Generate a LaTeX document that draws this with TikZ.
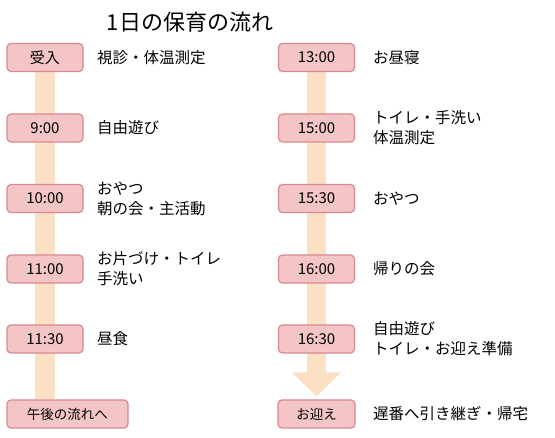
\documentclass[tikz,border=0pt]{standalone}
\usepackage{fontspec}
\setmainfont{Noto Sans CJK JP}
\usetikzlibrary{arrows.meta,backgrounds}
\definecolor{boxfill}{RGB}{243,197,198}
\definecolor{boxline}{RGB}{216,136,142}
\definecolor{barpeach}{RGB}{252,224,196}
\begin{document}
\begin{tikzpicture}
[x=1pt,y=-1pt,
  timebox/.style={shape=rectangle,rounded corners=4pt,draw=boxline,fill=boxfill,
    line width=1.2pt,minimum width=76pt,minimum height=28pt,inner sep=0pt,
    font=\fontsize{15}{18}\selectfont},%
  endbox/.style={timebox,font=\fontsize{13.5}{16}\selectfont},%
  labeltext/.style={anchor=west,inner sep=0pt,align=left,
    font=\fontsize{15.5}{20}\selectfont},%
  flowbar/.style={draw=barpeach,line width=20pt}]
\useasboundingbox (0,0) rectangle (555,438);
%% title
\node (title) at (190,22) {\fontsize{22}{26}\selectfont 1日の保育の流れ};
%% morning column
\foreach \nodename/\y/\clock/\activity in {
  am1/57.5/受入/視診・体温測定, am2/128/9:00/自由遊び,
  am3/198.5/10:00/{おやつ\\朝の会・主活動}, am4/269/11:00/{お片づけ・トイレ\\手洗い},
  am5/339/11:30/昼食}
{
  \node (\nodename) at (45,\y) [timebox] {\clock};
  \node [labeltext] at (97,\y) {\activity};
}
\node (amend) at (67.5,414) [endbox,minimum width=121pt] {午後の流れへ};
%% afternoon column
\foreach \nodename/\y/\clock/\activity in {
  pm1/57.5/13:00/お昼寝, pm2/128/15:00/{トイレ・手洗い\\体温測定},
  pm3/198.5/15:30/おやつ, pm4/269/16:00/帰りの会,
  pm5/339/16:30/{自由遊び\\トイレ・お迎え準備}}
{
  \node (\nodename) at (316.5,\y) [timebox] {\clock};
  \node [labeltext] at (373,\y) {\activity};
}
\node (pmend) at (316.5,414) [endbox,minimum width=77pt] {お迎え};
\node [labeltext] at (373,414) {遅番へ引き継ぎ・帰宅};
%% flow bars
\begin{scope}[on background layer]
  \draw[flowbar] (am1.south) -- (am1 |- amend.north);
  \draw[flowbar,line width=19pt,-{Triangle[width=48pt,length=24pt]},shorten >=3pt]
    (pm1.south) -- (pm1 |- pmend.north);
\end{scope}
\end{tikzpicture}
\end{document}
